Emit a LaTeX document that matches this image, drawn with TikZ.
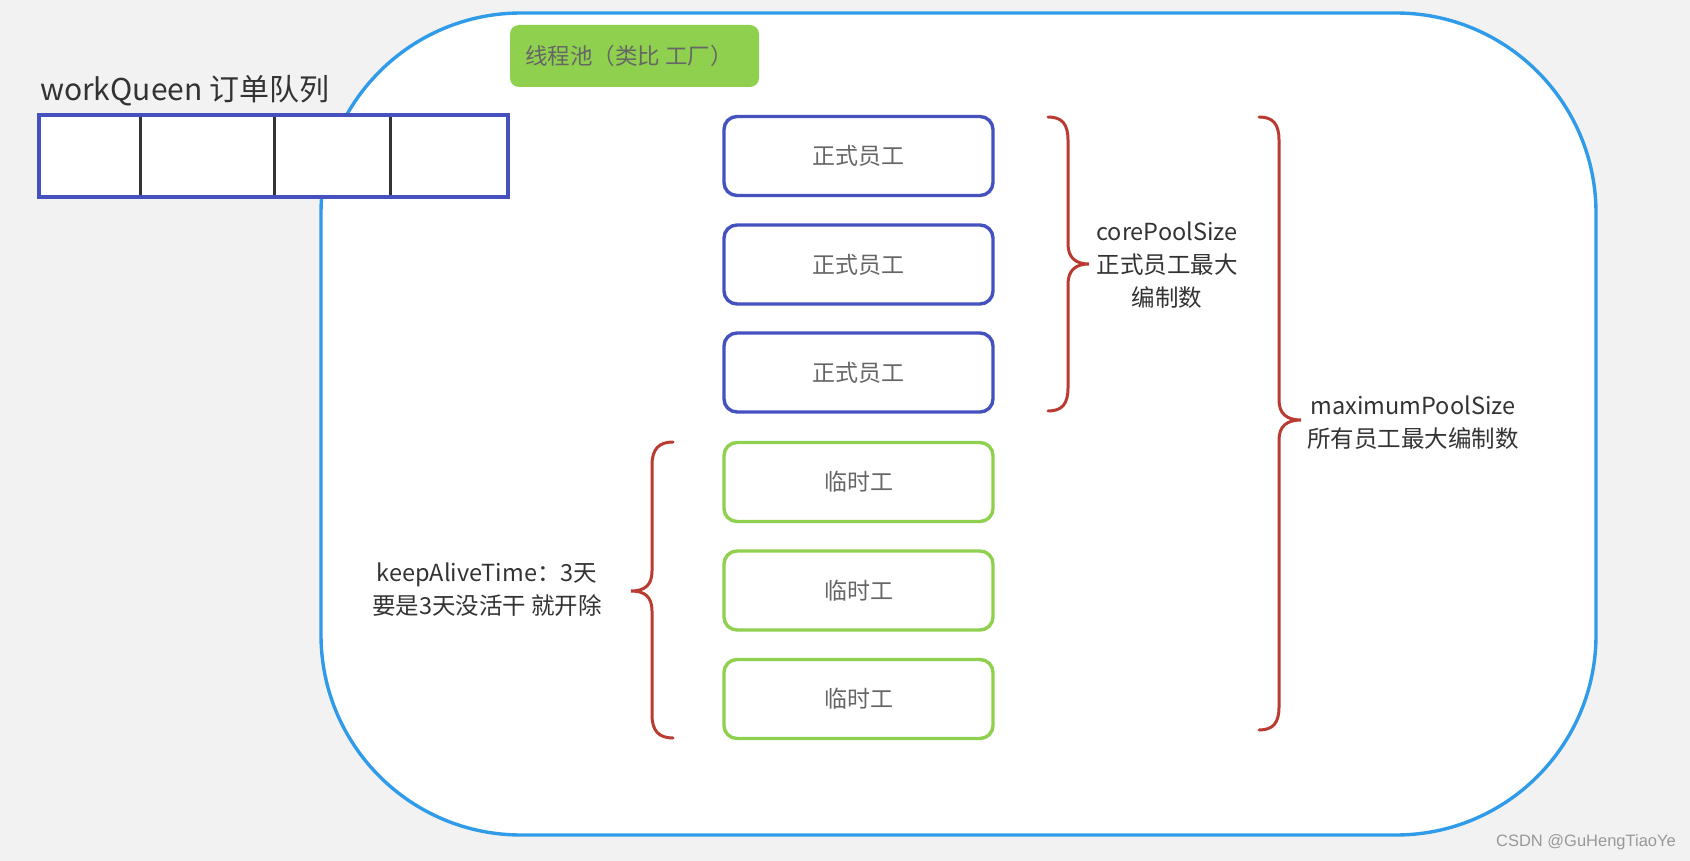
\documentclass[tikz,border=0pt]{standalone}
\usepackage{fontspec}
\setmainfont{Noto Sans CJK SC}
\newfontfamily\wmfont{Liberation Sans}
\definecolor{bgc}{HTML}{F2F2F2}
\definecolor{poolc}{HTML}{2F9BE9}
\definecolor{corec}{HTML}{4451BE}
\definecolor{tempc}{HTML}{90D04F}
\definecolor{bracec}{HTML}{BA3B31}
\definecolor{darkt}{HTML}{333333}
\definecolor{greyt}{HTML}{666666}
\definecolor{wmc}{HTML}{999999}
\tikzset{
  worker/.style={draw, line width=3.4pt, rounded corners=13pt, fill=white,
    minimum width=269pt, minimum height=79pt, text=greyt, font=\fontsize{23}{28}\selectfont},
  corebox/.style={worker, draw=corec},
  tempbox/.style={worker, draw=tempc},
  bracepath/.style={draw=bracec, line width=3pt, line cap=round},
  note/.style={align=center, text=darkt, font=\fontsize{23.5}{33}\selectfont},
}
\begin{document}
\begin{tikzpicture}[x=1pt,y=-1pt]
\useasboundingbox (0,0) rectangle (1690,861);
\fill[bgc] (0,0) rectangle (1690,861);
% pool
\draw[poolc, line width=3.4pt, fill=white, rounded corners=200pt] (321,13) rectangle (1596,835);
% title label
\node[fill=tempc, rounded corners=9pt, minimum width=249pt, minimum height=62pt, inner sep=0pt] (title) at (634.5,56) {};
\node[anchor=west, text=greyt, font=\fontsize{22.5}{26}\selectfont, inner sep=0pt] (titletext) at (525,56) {线程池（类比 工厂）};
% queue
\node[anchor=south west, text=darkt, font=\fontsize{30}{34}\selectfont, inner sep=0pt] (qlabel) at (40,106) {workQueen 订单队列};
\node[draw=corec, line width=3.4pt, fill=white, minimum width=469pt, minimum height=82pt, inner sep=0pt] (queue) at (273.5,156) {};
\foreach \xx in {140,274,390}{
  \draw[darkt, line width=3pt] (\xx,113) -- (\xx,197);
}
\draw[corec, line width=3.4pt] (39,115) rectangle (508,197);
% workers
\node[corebox] (c1) at (858.5,156) {正式员工};
\node[corebox] (c2) at (858.5,264.5) {正式员工};
\node[corebox] (c3) at (858.5,372.5) {正式员工};
\node[tempbox] (t1) at (858.5,482) {临时工};
\node[tempbox] (t2) at (858.5,590.5) {临时工};
\node[tempbox] (t3) at (858.5,699) {临时工};
% core brace
\draw[bracepath] (1048,117) .. controls (1062,117) and (1068,124) .. (1068,140) -- (1068,244)
  .. controls (1068,258) and (1076,264) .. (1089,264)
  .. controls (1076,264) and (1068,270) .. (1068,284) -- (1068,388)
  .. controls (1068,404) and (1062,411) .. (1048,411);
\node[note] (coretext) at (1167,265) {corePoolSize\\正式员工最大\\编制数};
% max brace
\draw[bracepath] (1259,117) .. controls (1273,117) and (1279,124) .. (1279,140) -- (1279,400)
  .. controls (1279,414) and (1287,420) .. (1301,420)
  .. controls (1287,420) and (1279,426) .. (1279,440) -- (1279,707)
  .. controls (1279,723) and (1273,730) .. (1259,730);
\node[note] (maxtext) at (1413,423) {maximumPoolSize\\所有员工最大编制数};
% keep-alive brace
\draw[bracepath] (673,442) .. controls (659,442) and (652,449) .. (652,465) -- (652,571)
  .. controls (652,585) and (645,591) .. (631,591)
  .. controls (645,591) and (652,597) .. (652,611) -- (652,715)
  .. controls (652,731) and (659,738) .. (673,738);
\node[note] (keeptext) at (487,590) {keepAliveTime：3天\\要是3天没活干 就开除};
% watermark
\node[anchor=east, text=wmc, font=\wmfont\fontsize{16.5}{19}\selectfont, inner sep=0pt] (wm) at (1676,842) {CSDN @GuHengTiaoYe};
\end{tikzpicture}
\end{document}
